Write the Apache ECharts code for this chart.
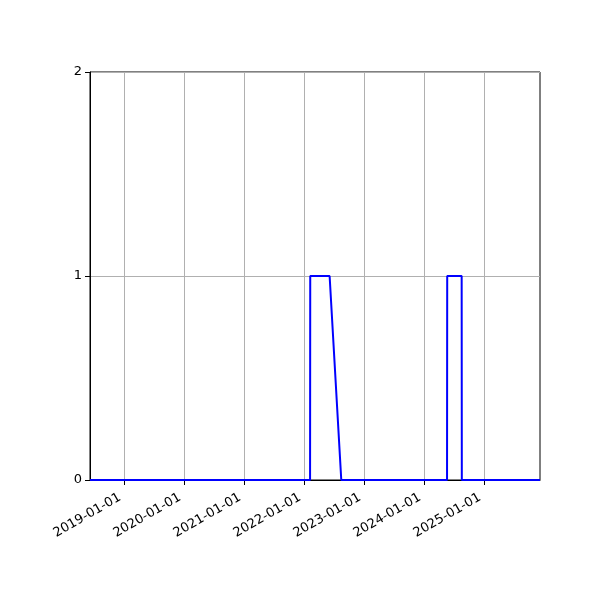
<!DOCTYPE html>
<html>
<head>
<meta charset="utf-8">
<script src="https://cdn.jsdelivr.net/npm/echarts@6/dist/echarts.min.js"></script>
<style>
  html, body { margin: 0; padding: 0; background: #fff; }
  #chart { width: 600px; height: 600px; }
</style>
</head>
<body>
<div id="chart"></div>
<script>
  // values
  const dates = [
    "2018-06-06", "2022-02-05", "2022-02-06", "2022-06-04", "2022-08-14",
    "2024-05-19", "2024-05-20", "2024-08-16", "2024-08-17", "2025-12-06",
  ];
  const values = [0, 0, 1, 1, 0, 0, 1, 1, 0, 0];
  const yearTicks = [
    "2019-01-01", "2020-01-01", "2021-01-01", "2022-01-01",
    "2023-01-01", "2024-01-01", "2025-01-01",
  ];
  const xMin = "2018-06-06";
  const xMax = "2025-12-06";

  const ts = (d) => new Date(d + "T00:00:00Z").getTime();
  const pad = (v) => String(v).padStart(2, "0");
  const fmt = (t) => {
    const d = new Date(t);
    return `${d.getUTCFullYear()}-${pad(d.getUTCMonth() + 1)}-${pad(d.getUTCDate())}`;
  };

  const chart = echarts.init(document.getElementById("chart"));
  const font = { fontFamily: "DejaVu Sans", fontSize: 13, color: "#000" };

  // time stamps on a plain value axis so the year ticks can be placed exactly
  chart.setOption({
    animation: false,
    grid: {
      left: 90, right: 60, top: 72, bottom: 120,
      show: true, borderColor: "#000", borderWidth: 1, backgroundColor: "transparent",
    },
    xAxis: {
      type: "value",
      min: ts(xMin),
      max: ts(xMax),
      axisLine: { show: true, onZero: false, lineStyle: { color: "#000", width: 1 } },
      axisTick: {
        show: true, length: 5, lineStyle: { color: "#000" },
        customValues: yearTicks.map(ts),
      },
      axisLabel: {
        ...font,
        rotate: 30,
        margin: 14,
        padding: [0, 5, 0, 0],
        customValues: yearTicks.map(ts),
        formatter: (v) => fmt(v),
      },
      splitLine: { show: true, lineStyle: { color: "#b0b0b0", width: 1 } },
    },
    yAxis: {
      type: "value",
      min: 0,
      max: 2,
      interval: 1,
      axisLine: { show: true, lineStyle: { color: "#000", width: 1 } },
      axisTick: { show: true, length: 5, lineStyle: { color: "#000" } },
      axisLabel: { ...font, margin: 8 },
      splitLine: { show: true, lineStyle: { color: "#b0b0b0", width: 1 } },
    },
    series: [
      {
        type: "line",
        data: dates.map((d, i) => [ts(d), values[i]]),
        showSymbol: false,
        lineStyle: { color: "#0000ff", width: 2 },
        itemStyle: { color: "#0000ff" },
        z: 5,
      },
    ],
  });
</script>
</body>
</html>
